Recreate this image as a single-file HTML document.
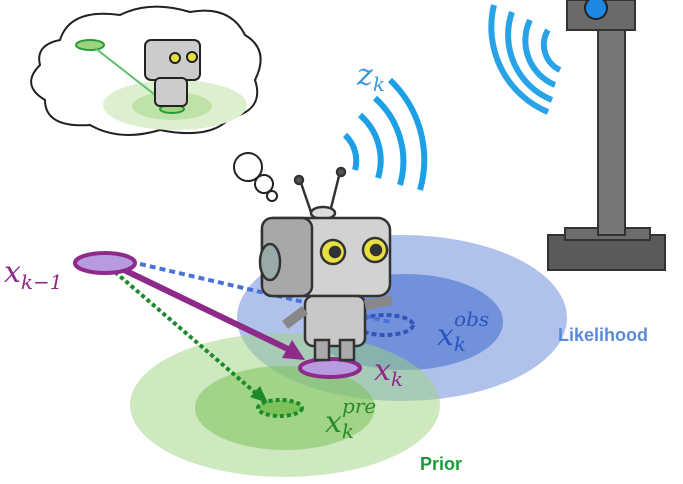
<!DOCTYPE html>
<html><head><meta charset="utf-8"><style>
html,body{margin:0;padding:0;background:#fff;width:683px;height:484px;overflow:hidden}
svg{display:block}
.m{font-family:"DejaVu Serif","Liberation Serif",serif;font-style:italic}
</style></head><body>
<svg width="683" height="484" viewBox="0 0 683 484">
<!-- tower -->
<g>
<rect x="548" y="235" width="117" height="35" fill="#5a5a5a" stroke="#333" stroke-width="2"/>
<rect x="565" y="228" width="85" height="12" fill="#6d6d6d" stroke="#333" stroke-width="2"/>
<rect x="598" y="25" width="27" height="210" fill="#777" stroke="#333" stroke-width="2"/>
<rect x="567" y="0" width="68" height="30" fill="#6a6a6a" stroke="#333" stroke-width="2"/>
<circle cx="596" cy="8" r="11" fill="#1e88e5" stroke="#222" stroke-width="2"/>
</g>
<g fill="none" stroke="#29a3e8" stroke-width="6">
<path d="M548 30 A28 28 0 0 0 560 70"/>
<path d="M530 20 A48 48 0 0 0 555 85"/>
<path d="M512 12 A70 70 0 0 0 552 100"/>
<path d="M494 5 A92 92 0 0 0 548 112"/>
</g>
<!-- likelihood -->
<ellipse cx="402" cy="318" rx="165" ry="83" fill="#6f8fdc" opacity="0.55"/>
<ellipse cx="405" cy="322" rx="98" ry="48" fill="#4a6fd0" opacity="0.6"/>
<!-- prior -->
<ellipse cx="285" cy="405" rx="155" ry="72" fill="#9ed47f" opacity="0.5"/>
<ellipse cx="285" cy="408" rx="90" ry="42" fill="#7cc25c" opacity="0.55"/>
<ellipse cx="280" cy="408" rx="22" ry="8" fill="#7cc25c" stroke="#1a8a2a" stroke-width="4" stroke-dasharray="4 3"/>
<ellipse cx="385" cy="325" rx="28" ry="10" fill="none" stroke="#3355bb" stroke-width="4" stroke-dasharray="5 3"/>
<!-- lines -->
<line x1="140" y1="264" x2="390" y2="322" stroke="#4a72d8" stroke-width="4" stroke-dasharray="6 4"/>
<line x1="115" y1="272" x2="258" y2="395" stroke="#1a8a2a" stroke-width="4" stroke-dasharray="4 3"/>
<polygon points="268,403 250,397 260,386" fill="#1a8a2a"/>
<line x1="120" y1="268" x2="290" y2="350" stroke="#8e2a8a" stroke-width="6"/>
<polygon points="305,360 282,358 292,340" fill="#8e2a8a"/>
<ellipse cx="105" cy="263" rx="30" ry="10" fill="#b79ae0" stroke="#8e2a8a" stroke-width="4"/>
<ellipse cx="330" cy="368" rx="30" ry="9" fill="#b79ae0" stroke="#8e2a8a" stroke-width="4"/>
<!-- robot -->
<g stroke="#333" stroke-width="2.5">
<line x1="300" y1="180" x2="312" y2="215" /><circle cx="299" cy="180" r="4" fill="#555"/>
<line x1="340" y1="172" x2="330" y2="212"/><circle cx="341" cy="172" r="4" fill="#555"/>
<ellipse cx="323" cy="213" rx="12" ry="6" fill="#ddd"/>
<rect x="262" y="218" width="128" height="78" rx="12" fill="#d2d2d2"/>
<rect x="262" y="218" width="50" height="78" rx="10" fill="#a8a8a8"/>
<ellipse cx="270" cy="262" rx="10" ry="18" fill="#9aa"/>
<circle cx="333" cy="252" r="12" fill="#e8e040"/><circle cx="375" cy="250" r="12" fill="#e8e040"/>
<circle cx="335" cy="252" r="5" fill="#333"/><circle cx="376" cy="250" r="5" fill="#333"/>
<rect x="305" y="296" width="60" height="50" rx="8" fill="#c8c8c8"/>
<rect x="315" y="340" width="14" height="20" fill="#aaa"/><rect x="340" y="340" width="14" height="20" fill="#aaa"/>
<path d="M305 310 L285 325" stroke-width="10" stroke="#888"/>
<path d="M365 305 L392 300" stroke-width="10" stroke="#888"/>
</g>
<!-- robot signal -->
<g fill="none" stroke="#1ea0e6" stroke-width="6">
<path d="M355 170 A35 35 0 0 0 345 135"/>
<path d="M378 178 A60 60 0 0 0 360 115"/>
<path d="M400 185 A85 85 0 0 0 375 98"/>
<path d="M420 190 A110 110 0 0 0 390 80"/>
</g>
<!-- thought bubble -->
<g fill="#fff" stroke="#222" stroke-width="2">
<path d="M60 40 Q70 8 120 15 Q150 0 190 12 Q230 5 245 35 Q270 50 255 80 Q265 110 230 118 Q210 140 160 130 Q120 142 90 125 Q45 128 45 100 Q20 85 40 65 Q35 45 60 40 Z"/>
<circle cx="248" cy="167" r="14"/><circle cx="264" cy="184" r="9"/><circle cx="272" cy="196" r="5"/>
<ellipse cx="175" cy="105" rx="72" ry="25" fill="#dcefcf" stroke="none"/>
<ellipse cx="172" cy="106" rx="40" ry="14" fill="#bfe2a8" stroke="none"/>
<ellipse cx="90" cy="45" rx="14" ry="5" fill="#9ed47f" stroke="#2a9a3a"/>
<line x1="95" y1="48" x2="168" y2="105" stroke="#5cbf6a"/>
<ellipse cx="172" cy="109" rx="12" ry="4" fill="#9ed47f" stroke="#2a9a3a"/>
<rect x="145" y="40" width="55" height="40" rx="6" fill="#ccc"/>
<rect x="155" y="78" width="32" height="28" rx="5" fill="#ccc"/>
<circle cx="175" cy="58" r="5" fill="#e8e040"/><circle cx="192" cy="57" r="5" fill="#e8e040"/>
</g>
<!-- labels -->
<text class="m" x="357" y="85" font-size="30" fill="#3a9ad9">z<tspan font-size="20" dy="6">k</tspan></text>
<text class="m" x="4" y="282" font-size="30" fill="#8e2a8a">x<tspan font-size="20" dy="7">k−1</tspan></text>
<text class="m" x="437" y="345" font-size="30" fill="#2a55c0">x<tspan font-size="20" dy="6">k</tspan><tspan font-size="20" dx="-12" dy="-25">obs</tspan></text>
<text class="m" x="374" y="380" font-size="30" fill="#8e2a8a">x<tspan font-size="20" dy="6">k</tspan></text>
<text class="m" x="325" y="432" font-size="30" fill="#2a8a2a">x<tspan font-size="20" dy="6">k</tspan><tspan font-size="20" dx="-12" dy="-25">pre</tspan></text>
<text x="558" y="341" font-family="Liberation Sans, sans-serif" font-weight="bold" font-size="18" fill="#5b8ad8">Likelihood</text>
<text x="420" y="470" font-family="Liberation Sans, sans-serif" font-weight="bold" font-size="18" fill="#1a9a3a">Prior</text>
</svg>
</body></html>
